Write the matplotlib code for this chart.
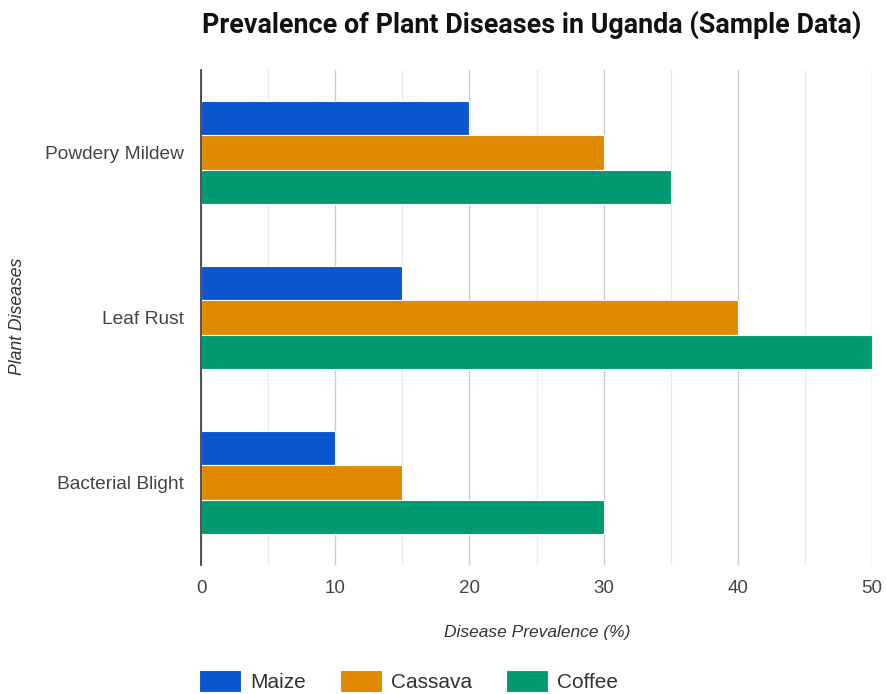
import numpy as np
import matplotlib.pyplot as plt
from matplotlib.ticker import MultipleLocator

diseases = ["Powdery Mildew", "Leaf Rust", "Bacterial Blight"]
crops = ["Maize", "Cassava", "Coffee"]
maize = [20, 15, 10]
cassava = [30, 40, 15]
coffee = [35, 50, 30]
colors = ["#0B55CE", "#DF8A02", "#009A72"]

plt.rcParams['font.family'] = ['Liberation Sans', 'DejaVu Sans']

fig = plt.figure(figsize=(8.86, 6.94), dpi=100)
ax = fig.add_axes([0.2269, 0.1859, 0.7573, 0.7132])

y = np.arange(len(diseases))
h = 0.208
for i, (vals, name) in enumerate(zip([maize, cassava, coffee], crops)):
    ax.barh(y + (i - 1) * h, vals, height=h, color=colors[i], label=name,
            edgecolor="white", linewidth=0.8, zorder=3)

ax.set_xlim(0, 50)
ax.set_ylim(2.5, -0.5)
ax.set_yticks(y)
ax.set_yticklabels(diseases)
ax.xaxis.set_major_locator(MultipleLocator(10))
ax.xaxis.set_minor_locator(MultipleLocator(5))
ax.grid(axis="x", which="major", color="#cccccc", linewidth=1, zorder=0)
ax.grid(axis="x", which="minor", color="#ebebeb", linewidth=1, zorder=0)
ax.tick_params(axis="both", which="both", length=0, labelcolor="#444444")
ax.tick_params(axis="x", pad=11, labelsize=13.5)
ax.tick_params(axis="y", pad=12, labelsize=13.8)

for s in ["top", "right", "bottom"]:
    ax.spines[s].set_visible(False)
ax.spines["left"].set_color("#333333")
ax.spines["left"].set_linewidth(1.2)
ax.spines["left"].set_zorder(4)

fig.text(537 / 886, 1 - 633 / 694, "Disease Prevalence (%)", fontsize=12.5, style="italic",
         color="#333333", ha="center", va="center")
fig.text(18 / 886, 1 - 316 / 694, "Plant Diseases", fontsize=12.7, style="italic",
         color="#333333", ha="center", va="center", rotation=90)

fig.text(0.6, 1 - 25 / 694, "Prevalence of Plant Diseases in Uganda (Sample Data)",
         ha="center", va="center", fontsize=19.4, fontweight="bold", color="#111111",
         family=["Roboto", "DejaVu Sans"])

fig.legend(loc="center left", bbox_to_anchor=(199 / 886, 1 - 681 / 694), ncol=3, frameon=False,
           fontsize=15, handlelength=2.02, handleheight=1.25, columnspacing=1.63,
           handletextpad=0.43, borderpad=0, borderaxespad=0, labelcolor="#333333")

fig.savefig("out.png", dpi=100)
